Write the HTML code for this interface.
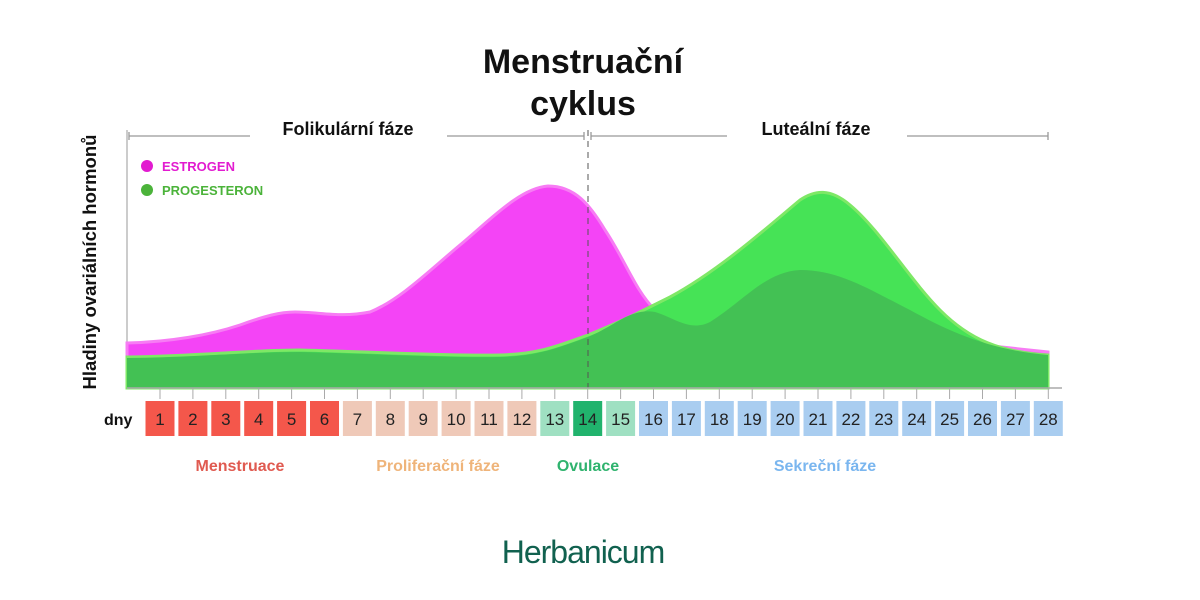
<!DOCTYPE html>
<html><head><meta charset="utf-8"><style>
html,body{margin:0;padding:0;background:#fff;}
svg{display:block;font-family:"Liberation Sans",sans-serif;}
</style></head><body>
<svg width="1200" height="600" viewBox="0 0 1200 600" xmlns="http://www.w3.org/2000/svg">
<text x="583" y="73" text-anchor="middle" font-size="34" font-weight="bold" fill="#111">Menstruační</text>
<text x="583" y="115" text-anchor="middle" font-size="34" font-weight="bold" fill="#111">cyklus</text>
<text x="348" y="135" text-anchor="middle" font-size="18" font-weight="bold" fill="#111">Folikulární fáze</text>
<text x="816" y="135" text-anchor="middle" font-size="18" font-weight="bold" fill="#111">Luteální fáze</text>
<g stroke="#999" stroke-width="1.3">
<line x1="129" y1="136" x2="250" y2="136"/><line x1="447" y1="136" x2="584" y2="136"/>
<line x1="591" y1="136" x2="727" y2="136"/><line x1="907" y1="136" x2="1048" y2="136"/>
<line x1="129" y1="132" x2="129" y2="140"/><line x1="584" y1="132" x2="584" y2="140"/>
<line x1="591" y1="132" x2="591" y2="140"/><line x1="1048" y1="132" x2="1048" y2="140"/>
</g>
<text transform="translate(96,262) rotate(-90)" text-anchor="middle" font-size="18.5" font-weight="bold" fill="#111">Hladiny ovariálních hormonů</text>
<line x1="127" y1="130" x2="127" y2="388" stroke="#bbb" stroke-width="1.5"/>
<circle cx="147" cy="166" r="6" fill="#e21bd0"/>
<text x="162" y="171" font-size="13" font-weight="bold" fill="#e21bd0">ESTROGEN</text>
<circle cx="147" cy="190" r="6" fill="#4bb33a"/>
<text x="162" y="195" font-size="13" font-weight="bold" fill="#4bb33a">PROGESTERON</text>
<path d="M127,343 C170,342 210,335 240,325 C265,316 280,312 295,312 C320,312 340,318 370,312 C400,300 430,270 460,245 C490,220 520,188 548,186 C575,186 590,205 605,230 C625,260 635,290 655,310 L1048,352 L1048,388 L127,388 Z" fill="#f444f6" stroke="#f77cf4" stroke-width="3"/>
<path d="M127,357 C200,356 250,350 300,350 C380,352 450,356 500,355 C540,354 560,345 588,335 C620,322 640,312 670,297 C720,270 770,225 800,200 C815,190 830,188 850,205 C880,230 910,280 940,310 C970,340 1000,352 1048,355 L1048,388 L127,388 Z" fill="#46e356" stroke="#7ee866" stroke-width="3"/>
<path d="M127,358 C200,357 250,352 300,352 C380,354 450,358 500,357 C540,356 560,347 588,337 C615,326 630,308 655,312 C675,318 690,332 710,322 C745,300 765,272 800,270 C840,270 870,290 910,310 C950,332 990,350 1048,355 L1048,388 L127,388 Z" fill="#43c154"/>
<line x1="588" y1="130" x2="588" y2="388" stroke="#555" stroke-width="1" stroke-dasharray="6,5"/>
<line x1="127" y1="388" x2="1062" y2="388" stroke="#aaa" stroke-width="1.5"/>
<g stroke="#aaa" stroke-width="1" id="ticks"></g>
<text x="104" y="425" font-size="16" font-weight="bold" fill="#111">dny</text>
<g font-size="17" text-anchor="middle" fill="#222">
<g id="boxes"></g>
</g>
<text x="240" y="471" text-anchor="middle" font-size="16" font-weight="bold" fill="#e05a50">Menstruace</text>
<text x="438" y="471" text-anchor="middle" font-size="16" font-weight="bold" fill="#efb47a">Proliferační fáze</text>
<text x="588" y="471" text-anchor="middle" font-size="16" font-weight="bold" fill="#2fb36e">Ovulace</text>
<text x="825" y="471" text-anchor="middle" font-size="16" font-weight="bold" fill="#7ab6ef">Sekreční fáze</text>
<text x="583" y="563" text-anchor="middle" font-size="32" fill="#11614f" letter-spacing="-1">Herbanicum</text>
</svg>
<script>
var ns="http://www.w3.org/2000/svg",b=document.getElementById("boxes"),t=document.getElementById("ticks");
for(var d=1;d<=28;d++){var cx=160+32.9*(d-1);
var c=d<=6?"#f4574b":d<=12?"#efc9b8":d==14?"#21b36d":d<=15?"#9fe0c2":"#a9cdf0";
var r=document.createElementNS(ns,"rect");r.setAttribute("x",cx-14.5);r.setAttribute("y",401);r.setAttribute("width",29);r.setAttribute("height",35);r.setAttribute("fill",c);b.appendChild(r);
var tx=document.createElementNS(ns,"text");tx.setAttribute("x",cx);tx.setAttribute("y",425);tx.textContent=d;b.appendChild(tx);
var l=document.createElementNS(ns,"line");l.setAttribute("x1",cx);l.setAttribute("x2",cx);l.setAttribute("y1",388);l.setAttribute("y2",399);t.appendChild(l);}
</script>
</body></html>
